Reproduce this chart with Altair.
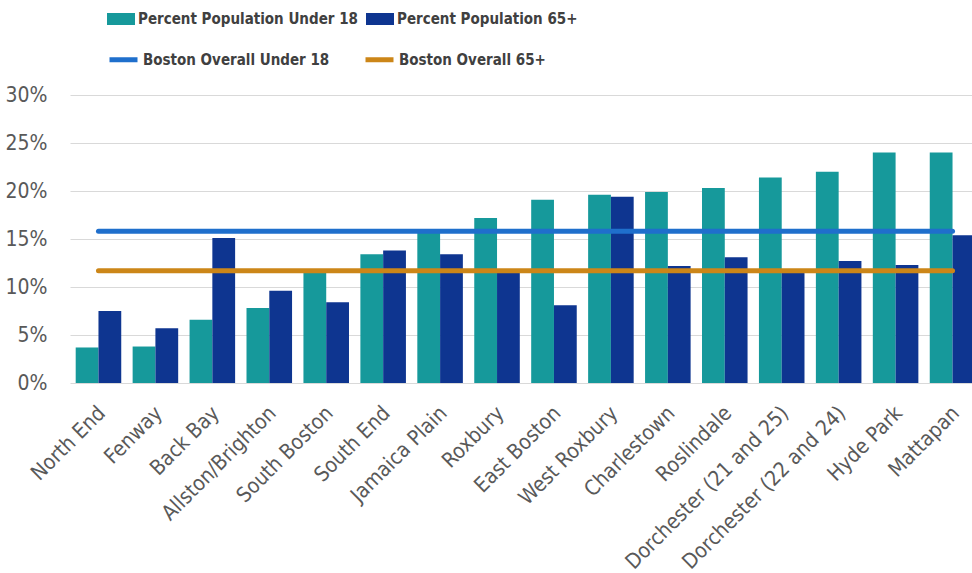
import altair as alt
import pandas as pd

# Share of residents under 18 and 65+ by Boston neighborhood (percent)
neighborhoods = [
    "North End", "Fenway", "Back Bay", "Allston/Brighton", "South Boston",
    "South End", "Jamaica Plain", "Roxbury", "East Boston", "West Roxbury",
    "Charlestown", "Roslindale", "Dorchester (21 and 25)",
    "Dorchester (22 and 24)", "Hyde Park", "Mattapan",
]
under_18 = [3.7, 3.8, 6.6, 7.8, 11.5, 13.4, 15.7, 17.2, 19.1, 19.6,
            19.9, 20.3, 21.4, 22.0, 24.0, 24.0]
age_65_plus = [7.5, 5.7, 15.1, 9.6, 8.4, 13.8, 13.4, 11.5, 8.1, 19.4,
               12.2, 13.1, 11.6, 12.7, 12.3, 15.4]

# City-wide reference levels (percent)
boston_under_18 = 15.8
boston_65_plus = 11.7

bar_series = ["Percent Population Under 18", "Percent Population 65+"]
line_series = ["Boston Overall Under 18", "Boston Overall 65+"]
bar_colors = ["#16999b", "#0e3590"]
line_colors = ["#1f6fcc", "#cc8618"]

bars_df = pd.DataFrame({
    "neighborhood": neighborhoods * 2,
    "series": [bar_series[0]] * len(neighborhoods) + [bar_series[1]] * len(neighborhoods),
    "value": under_18 + age_65_plus,
})
lines_df = pd.DataFrame({
    "neighborhood": neighborhoods * 2,
    "series": [line_series[0]] * len(neighborhoods) + [line_series[1]] * len(neighborhoods),
    "value": [boston_under_18] * len(neighborhoods) + [boston_65_plus] * len(neighborhoods),
})

FONT = "DejaVu Sans Condensed, sans-serif"
RECT = "M-1,-0.43H1V0.43H-1Z"

x_enc = alt.X(
    "neighborhood:N",
    sort=neighborhoods,
    scale=alt.Scale(paddingInner=0.2, paddingOuter=0.1, range=[0, 911]),
    axis=alt.Axis(
        title=None, labelAngle=-45, labelFontSize=21, labelColor="#595959",
        labelFont=FONT, ticks=False, domain=False, labelPadding=19,
        labelOffset=-4, labelLimit=400, grid=False,
    ),
)
y_enc = alt.Y(
    "value:Q",
    scale=alt.Scale(domain=[0, 30], nice=False),
    axis=alt.Axis(
        title=None, values=[0, 5, 10, 15, 20, 25, 30],
        labelExpr="datum.value + '%'", labelFontSize=21, labelColor="#595959",
        labelFont=FONT, ticks=False, domain=False, labelPadding=23,
        gridColor="#d9d9d9", gridWidth=1.2,
    ),
)

bars = alt.Chart(bars_df).mark_bar().encode(
    x=x_enc,
    xOffset=alt.XOffset("series:N", sort=bar_series,
                        scale=alt.Scale(paddingInner=0, paddingOuter=0)),
    y=y_enc,
    fill=alt.Fill(
        "series:N",
        scale=alt.Scale(domain=bar_series, range=bar_colors),
        legend=alt.Legend(
            title=None, orient="none", legendX=37, legendY=-90,
            direction="horizontal", columns=2, columnPadding=8,
            symbolType=RECT, symbolSize=784, symbolStrokeWidth=0,
            labelFont=FONT, labelFontSize=15, labelFontWeight="bold",
            labelColor="#404040", labelOffset=3, labelLimit=400,
        ),
    ),
)

lines = alt.Chart(lines_df).mark_line(strokeWidth=5, strokeCap="round").encode(
    x=alt.X("neighborhood:N", sort=neighborhoods),
    y=alt.Y("value:Q"),
    stroke=alt.Stroke(
        "series:N",
        scale=alt.Scale(domain=line_series, range=line_colors),
        legend=alt.Legend(
            title=None, orient="none", legendX=37, legendY=-52,
            direction="horizontal", columns=2, columnPadding=25,
            symbolType="stroke", symbolSize=784, symbolStrokeWidth=5,
            labelFont=FONT, labelFontSize=15, labelFontWeight="bold",
            labelColor="#404040", labelOffset=3, labelLimit=400,
        ),
    ),
)

chart = alt.layer(bars, lines).properties(
    width=902,
    height=288,
    padding={"left": 70, "top": 95, "right": 0, "bottom": 190},
    autosize=alt.AutoSizeParams(type="none"),
    background="white",
).configure_view(stroke=None)

chart.save("out.html", embed_options={"renderer": "svg", "actions": False})
